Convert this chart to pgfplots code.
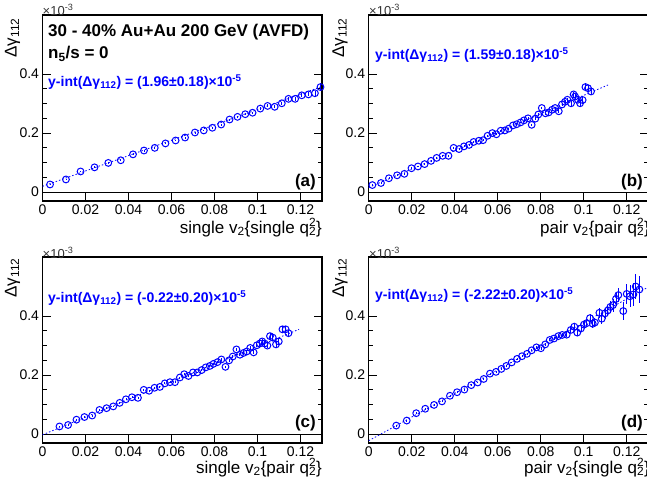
\documentclass[border=0pt]{standalone}
\usepackage{fontspec}
\setmainfont{Liberation Sans}
\usepackage{pgfplots}
\pgfplotsset{compat=1.18}
\definecolor{rootblue}{RGB}{0,0,255}

\pgfplotsset{
  rootpanel/.style={
    scale only axis, width=279.5pt, height=186pt,
    xmin=0, xmax=0.13, ymin=-0.03, ymax=0.6,
    xtick={0,0.02,0.04,0.06,0.08,0.1,0.12},
    xticklabels={0,0.02,0.04,0.06,0.08,0.1,0.12},
    ytick={0,0.2,0.4}, yticklabels={0,0.2,0.4},
    minor y tick num=3,
    tick align=inside, xtick pos=bottom,
    major tick length=8pt, minor tick length=4pt,
    every tick/.style={black, line width=0.8pt},
    axis line style={line width=1.2pt},
    tick label style={font=\fontsize{14}{14}\selectfont},
    /pgf/number format/assume math mode=true,
  },
  pts/.style={only marks, mark=o, rootblue, mark size=3.4pt,
    mark options={line width=1pt},
    error bars/.cd, y dir=both, y explicit, error mark=none,
    error bar style={rootblue, line width=0.8pt}},
  fit/.style={rootblue, line width=0.8pt, dash pattern=on 1.5pt off 2pt},
  zero/.style={black, line width=1.2pt},
}
\newcommand{\yint}[1]{{\fontsize{14}{16}\selectfont\bfseries\color{rootblue}y-int(Δγ\textsubscript{112}) = (#1)×10\textsuperscript{-5}}}
\newcommand{\ylab}{{\fontsize{17}{18}\selectfont Δγ\textsubscript{112}}}
\newcommand{\expo}{{\fontsize{13}{14}\selectfont ×10\textsuperscript{-3}}}
\newcommand{\qq}{q\rlap{\textsuperscript{2}}\textsubscript{2}}
\newcommand{\bigbf}{\fontsize{17}{19}\selectfont\bfseries}

\begin{document}
\begin{tikzpicture}[x=1pt,y=1pt]

% (a) single v2{single q2}
\begin{axis}[rootpanel, at={(42.5pt,290pt)}, anchor=south west]
\addplot[zero] coordinates {(0,0) (0.13,0)};
\addplot[fit] coordinates {(0,0.0196) (0.13,0.358)};
\addplot[pts] table[x=x, y=y, y error=e] {
x y e
0.0035 0.026 0.003
0.0109 0.043 0.003
0.0177 0.070 0.003
0.0242 0.084 0.003
0.0306 0.099 0.003
0.0364 0.108 0.003
0.0421 0.128 0.003
0.0472 0.141 0.003
0.0522 0.150 0.003
0.0572 0.165 0.003
0.0619 0.175 0.003
0.0663 0.185 0.003
0.0709 0.202 0.003
0.0750 0.209 0.003
0.0790 0.218 0.003
0.0831 0.229 0.003
0.0870 0.246 0.003
0.0907 0.255 0.004
0.0943 0.264 0.004
0.0977 0.269 0.004
0.1013 0.283 0.004
0.1047 0.292 0.005
0.1080 0.289 0.005
0.1113 0.301 0.005
0.1144 0.316 0.006
0.1175 0.316 0.006
0.1206 0.328 0.007
0.1237 0.331 0.007
0.1267 0.335 0.008
0.1293 0.356 0.009
};
\end{axis}

% (b) pair v2{pair q2}
\begin{axis}[rootpanel, at={(368.7pt,290pt)}, anchor=south west]
\addplot[zero] coordinates {(0,0) (0.13,0)};
\addplot[fit] coordinates {(0,0.0159) (0.1113,0.363)};
\addplot[pts] table[x=x, y=y, y error=e] {
x y e
0.0017 0.024 0.003
0.0057 0.031 0.003
0.0094 0.047 0.003
0.0132 0.057 0.003
0.0166 0.062 0.003
0.0199 0.081 0.003
0.0229 0.087 0.003
0.0260 0.095 0.003
0.0290 0.106 0.003
0.0316 0.116 0.003
0.0344 0.123 0.003
0.0371 0.123 0.003
0.0395 0.150 0.003
0.0420 0.146 0.003
0.0443 0.155 0.003
0.0467 0.160 0.003
0.0488 0.170 0.003
0.0512 0.174 0.003
0.0532 0.176 0.003
0.0553 0.191 0.003
0.0575 0.200 0.003
0.0594 0.196 0.003
0.0614 0.208 0.003
0.0633 0.209 0.003
0.0651 0.215 0.003
0.0671 0.226 0.003
0.0688 0.230 0.003
0.0706 0.236 0.003
0.0722 0.243 0.004
0.0741 0.250 0.004
0.0758 0.228 0.004
0.0775 0.249 0.004
0.0789 0.263 0.004
0.0805 0.285 0.004
0.0822 0.267 0.005
0.0837 0.270 0.005
0.0853 0.279 0.005
0.0867 0.285 0.005
0.0884 0.274 0.006
0.0899 0.297 0.006
0.0913 0.306 0.007
0.0924 0.313 0.007
0.0941 0.301 0.008
0.0953 0.331 0.008
0.0960 0.324 0.009
0.0973 0.313 0.009
0.0983 0.301 0.010
0.0995 0.312 0.010
0.1008 0.356 0.011
0.1020 0.352 0.011
0.1034 0.341 0.012
};
\end{axis}

% (c) single v2{pair q2}
\begin{axis}[rootpanel, at={(42.5pt,48pt)}, anchor=south west]
\addplot[zero] coordinates {(0,0) (0.13,0)};
\addplot[fit] coordinates {(0,-0.0022) (0.1193,0.355)};
\addplot[pts] table[x=x, y=y, y error=e] {
x y e
0.0079 0.026 0.003
0.0119 0.031 0.003
0.0158 0.049 0.003
0.0195 0.058 0.003
0.0231 0.063 0.003
0.0265 0.082 0.003
0.0298 0.088 0.003
0.0329 0.094 0.003
0.0359 0.106 0.003
0.0388 0.118 0.003
0.0416 0.125 0.003
0.0444 0.123 0.003
0.0471 0.150 0.003
0.0496 0.147 0.003
0.0521 0.157 0.003
0.0546 0.160 0.003
0.0569 0.172 0.003
0.0593 0.176 0.003
0.0616 0.176 0.003
0.0639 0.192 0.003
0.0659 0.203 0.003
0.0679 0.197 0.003
0.0700 0.209 0.003
0.0720 0.209 0.003
0.0740 0.217 0.003
0.0759 0.226 0.003
0.0778 0.231 0.004
0.0795 0.238 0.004
0.0814 0.244 0.004
0.0832 0.253 0.004
0.0851 0.228 0.004
0.0868 0.250 0.005
0.0885 0.263 0.005
0.0902 0.287 0.005
0.0918 0.269 0.005
0.0935 0.275 0.006
0.0950 0.280 0.006
0.0966 0.292 0.006
0.0982 0.277 0.007
0.0997 0.301 0.007
0.1011 0.307 0.008
0.1022 0.314 0.008
0.1033 0.307 0.008
0.1046 0.300 0.009
0.1058 0.332 0.009
0.1071 0.327 0.010
0.1086 0.304 0.010
0.1099 0.314 0.011
0.1116 0.355 0.011
0.1131 0.355 0.012
0.1144 0.342 0.012
};
\end{axis}

% (d) pair v2{single q2}
\begin{axis}[rootpanel, at={(368.7pt,48pt)}, anchor=south west]
\addplot[zero] coordinates {(0,0) (0.13,0)};
\addplot[fit] coordinates {(0,-0.0222) (0.13,0.498)};
\addplot[pts] table[x=x, y=y, y error=e] {
x y e
0.0128 0.029 0.003
0.0177 0.046 0.003
0.0221 0.071 0.003
0.0263 0.086 0.003
0.0304 0.099 0.003
0.0341 0.111 0.003
0.0378 0.130 0.003
0.0411 0.142 0.003
0.0445 0.151 0.003
0.0477 0.166 0.003
0.0507 0.175 0.003
0.0535 0.187 0.003
0.0564 0.205 0.003
0.0592 0.211 0.003
0.0617 0.221 0.003
0.0640 0.231 0.003
0.0665 0.243 0.003
0.0690 0.255 0.003
0.0713 0.264 0.004
0.0736 0.272 0.004
0.0758 0.284 0.004
0.0780 0.294 0.004
0.0801 0.291 0.005
0.0821 0.304 0.005
0.0842 0.319 0.005
0.0862 0.324 0.006
0.0882 0.332 0.006
0.0900 0.336 0.007
0.0921 0.337 0.008
0.0940 0.353 0.009
0.0956 0.364 0.010
0.0970 0.344 0.010
0.0987 0.358 0.011
0.1001 0.371 0.012
0.1014 0.376 0.013
0.1029 0.393 0.014
0.1042 0.374 0.015
0.1052 0.378 0.016
0.1073 0.411 0.017
0.1084 0.391 0.018
0.1099 0.409 0.019
0.1112 0.419 0.020
0.1124 0.431 0.021
0.1136 0.437 0.022
0.1150 0.458 0.023
0.1161 0.471 0.024
0.1184 0.417 0.030
0.1200 0.475 0.035
0.1215 0.467 0.038
0.1231 0.473 0.040
0.1242 0.500 0.042
0.1259 0.490 0.045
};
\end{axis}

% texts
\foreach \px/\py in {42.5/481, 369/481, 42.5/238, 369/238}
  \node[anchor=west, inner sep=0pt, text=black!80] at (\px,\py) {\expo};
\foreach \px/\py in {12.5/473, 340/473, 12.5/233, 340/233}
  \node[rotate=90, anchor=east, inner sep=0pt] at (\px,\py) {\ylab};

\node[anchor=base west, inner sep=0pt] at (48,454) {\bigbf 30 - 40\% Au+Au 200 GeV (AVFD)};
\node[anchor=base west, inner sep=0pt] at (48,432) {\bigbf n\textsubscript{5}/s = 0};

\node[anchor=west, inner sep=0pt] at (48,409) {\yint{1.96±0.18}};
\node[anchor=west, inner sep=0pt] at (375,436) {\yint{1.59±0.18}};
\node[anchor=west, inner sep=0pt] at (48,193) {\yint{-0.22±0.20}};
\node[anchor=west, inner sep=0pt] at (375,196) {\yint{-2.22±0.20}};

\node[anchor=east, inner sep=0pt] at (316,309) {\bigbf (a)};
\node[anchor=east, inner sep=0pt] at (643,309) {\bigbf (b)};
\node[anchor=east, inner sep=0pt] at (316,68) {\bigbf (c)};
\node[anchor=east, inner sep=0pt] at (643,68) {\bigbf (d)};

\node[anchor=base east, inner sep=0pt] at (322,258) {\fontsize{17}{19}\selectfont single v\textsubscript{2}\{single \qq\}};
\node[anchor=base east, inner sep=0pt] at (650,258) {\fontsize{17}{19}\selectfont pair v\textsubscript{2}\{pair \qq\}};
\node[anchor=base east, inner sep=0pt] at (322,18) {\fontsize{17}{19}\selectfont single v\textsubscript{2}\{pair \qq\}};
\node[anchor=base east, inner sep=0pt] at (650,18) {\fontsize{17}{19}\selectfont pair v\textsubscript{2}\{single \qq\}};

\pgfresetboundingbox
\path[use as bounding box] (0,0) rectangle (647,491);
\end{tikzpicture}
\end{document}
